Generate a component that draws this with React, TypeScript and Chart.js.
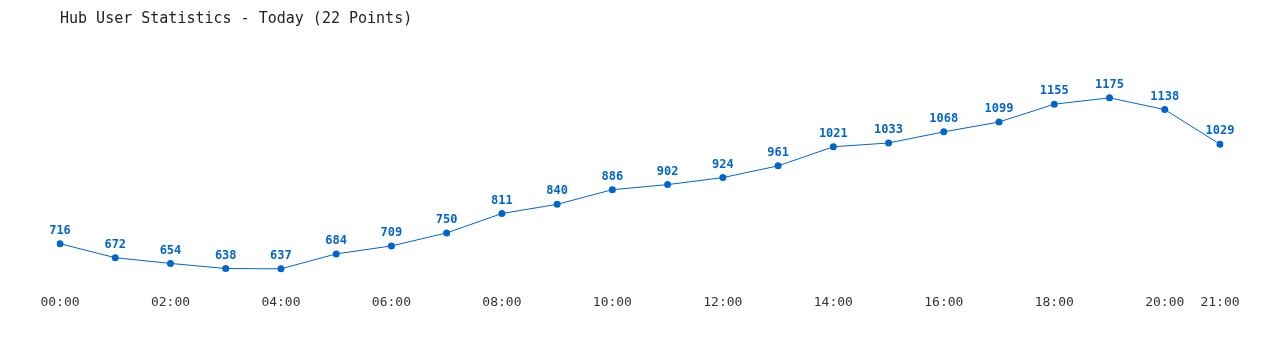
import React, { useEffect, useRef } from "react";
import { Chart, registerables } from "chart.js";

Chart.register(...registerables);

const hours: string[] = [
  "00:00", "01:00", "02:00", "03:00", "04:00", "05:00", "06:00", "07:00",
  "08:00", "09:00", "10:00", "11:00", "12:00", "13:00", "14:00", "15:00",
  "16:00", "17:00", "18:00", "19:00", "20:00", "21:00",
];

const users: number[] = [
  716, 672, 654, 638, 637, 684, 709, 750, 811, 840, 886,
  902, 924, 961, 1021, 1033, 1068, 1099, 1155, 1175, 1138, 1029,
];

const titleText = "Hub User Statistics - Today (22 Points)";

const BLUE = "#0066cc";
const MONO = "'DejaVu Sans Mono', 'Liberation Mono', monospace";

const valueLabels = {
  id: "valueLabels",
  afterDatasetsDraw(chart: any) {
    const ctx = chart.ctx;
    const meta = chart.getDatasetMeta(0);
    ctx.save();
    ctx.font = `bold 12px ${MONO}`;
    ctx.fillStyle = BLUE;
    ctx.textAlign = "center";
    ctx.textBaseline = "bottom";
    meta.data.forEach((pt: any, i: number) => {
      ctx.fillText(String(users[i]), pt.x, pt.y - 7);
    });
    ctx.restore();
  },
};

export default function App() {
  const ref = useRef<HTMLCanvasElement | null>(null);

  useEffect(() => {
    document.body.style.margin = "0";
    const canvas = ref.current;
    if (!canvas) return;
    const chart = new Chart(canvas, {
      type: "line",
      data: {
        labels: hours,
        datasets: [
          {
            data: users,
            borderColor: BLUE,
            backgroundColor: BLUE,
            borderWidth: 1,
            pointRadius: 3.5,
            pointHoverRadius: 3.5,
            pointBackgroundColor: BLUE,
            pointBorderWidth: 0,
            tension: 0,
            fill: false,
          },
        ],
      },
      options: {
        responsive: false,
        animation: false,
        events: [],
        layout: { padding: { left: 60, right: 60, top: 0, bottom: 37 } },
        plugins: {
          legend: { display: false },
          tooltip: { enabled: false },
          title: {
            display: true,
            text: titleText,
            align: "start",
            color: "#222",
            font: { family: MONO, size: 15, weight: "normal" },
            padding: { top: 10, bottom: 46 },
          },
        },
        scales: {
          x: {
            type: "category",
            offset: false,
            grid: { display: false, drawTicks: false },
            border: { display: false },
            ticks: {
              autoSkip: false,
              maxRotation: 0,
              minRotation: 0,
              padding: 3,
              color: "#333",
              font: { family: MONO, size: 13 },
              callback: (_v: any, i: number) =>
                i % 2 === 0 || i === hours.length - 1 ? hours[i] : "",
            },
          },
          y: {
            display: false,
            min: 566,
            max: 1250,
          },
        },
      },
      plugins: [valueLabels],
    });
    return () => chart.destroy();
  }, []);

  return (
    <div style={{ width: 1280, height: 350 }}>
      <canvas ref={ref} width={1280} height={350} />
    </div>
  );
}
